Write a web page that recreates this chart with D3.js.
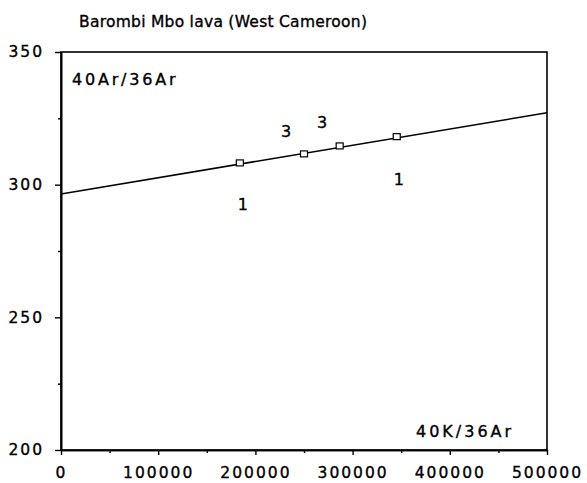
<!DOCTYPE html>
<html>
<head>
<meta charset="utf-8">
<script src="https://cdn.jsdelivr.net/npm/d3@7"></script>
<style>
  body { margin: 0; background: #fff; }
  text { font-family: "DejaVu Sans", sans-serif; fill: #000; stroke: #000; stroke-width: 0.35px; }
</style>
</head>
<body>
<div id="chart"></div>
<script>
// measured points (40K/36Ar vs 40Ar/36Ar)
const ratioK = [184000, 250000, 286700, 345400];
const ratioAr = [308.2, 311.6, 314.6, 318.1];

// isochron line end points
const fitX = [0, 500000];
const fitY = [296.5, 327.1];

// number labels drawn on the plot
const noteText = ["3", "3", "1", "1"];
const noteX = [231500, 268500, 187200, 347700];
const noteY = [319.8, 323.2, 292.3, 301.7];

const xTicks = [0, 100000, 200000, 300000, 400000, 500000];
const xMinor = [50000, 150000, 250000, 350000, 450000];
const yTicks = [200, 250, 300, 350];
const yMinor = [225, 275, 325];

var width = 587, height = 483;
var plot = {left: 61, right: 547, top: 52, bottom: 450};

var x = d3.scaleLinear().domain([0, 500000]).range([plot.left, plot.right]);
var y = d3.scaleLinear().domain([200, 350]).range([plot.bottom, plot.top]);

let svg = d3.select("#chart")
            .append("svg")
            .attr("width", width)
            .attr("height", height);

svg.append("text")
   .attr("x", 79)
   .attr("y", 22)
   .attr("dominant-baseline", "middle")
   .attr("font-size", 15.5)
   .attr("textLength", 288)
   .attr("lengthAdjust", "spacing")
   .text("Barombi Mbo lava (West Cameroon)");

// frame
svg.append("rect")
   .attr("x", plot.left)
   .attr("y", plot.top)
   .attr("width", plot.right - plot.left)
   .attr("height", plot.bottom - plot.top)
   .attr("fill", "none")
   .attr("stroke", "#000")
   .attr("stroke-width", 1.6);

// axes
let xAxis = svg.append("g")
   .attr("transform", "translate(0," + plot.bottom + ")")
   .call(d3.axisBottom(x).tickValues(xTicks).tickSize(5).tickSizeOuter(0).tickPadding(12)
           .tickFormat(d3.format("d")));
xAxis.append("g")
   .call(d3.axisBottom(x).tickValues(xMinor).tickSize(3).tickSizeOuter(0).tickFormat(""));

let yAxis = svg.append("g")
   .attr("transform", "translate(" + plot.left + ",0)")
   .call(d3.axisLeft(y).tickValues(yTicks).tickSize(6).tickSizeOuter(0).tickPadding(11)
           .tickFormat(d3.format("d")));
yAxis.append("g")
   .call(d3.axisLeft(y).tickValues(yMinor).tickSize(3).tickSizeOuter(0).tickFormat(""));

svg.selectAll(".domain").attr("stroke-width", 1.6);
svg.selectAll(".tick line").attr("stroke-width", 1.4);
svg.selectAll(".tick text")
   .attr("font-family", "DejaVu Sans, sans-serif")
   .attr("font-size", 15.5)
   .attr("letter-spacing", 2)
   .attr("fill", "#000");

// axis titles inside frame
svg.append("text")
   .attr("x", 72)
   .attr("y", 80)
   .attr("dominant-baseline", "middle")
   .attr("font-size", 16)
   .attr("letter-spacing", 2.8)
   .text("40Ar/36Ar");

svg.append("text")
   .attr("x", 416)
   .attr("y", 432)
   .attr("dominant-baseline", "middle")
   .attr("font-size", 16)
   .attr("letter-spacing", 3)
   .text("40K/36Ar");

// fitted line
var fit = fitX.map((d, i) => ({x: d, y: fitY[i]}));
svg.append("path")
   .datum(fit)
   .attr("fill", "none")
   .attr("stroke", "#000")
   .attr("stroke-width", 1.5)
   .attr("d", d3.line().x(d => x(d.x)).y(d => y(d.y)));

// points
var pts = ratioK.map((d, i) => ({x: d, y: ratioAr[i]}));
svg.selectAll(".pt")
   .data(pts)
   .enter()
   .append("rect")
   .attr("class", "pt")
   .attr("x", d => x(d.x) - 3.5)
   .attr("y", d => y(d.y) - 3)
   .attr("width", 7)
   .attr("height", 6)
   .attr("fill", "#fff")
   .attr("stroke", "#000")
   .attr("stroke-width", 1.2);

// labels
var notes = noteText.map((t, i) => ({t: t, x: noteX[i], y: noteY[i]}));
svg.selectAll(".note")
   .data(notes)
   .enter()
   .append("text")
   .attr("class", "note")
   .attr("x", d => x(d.x))
   .attr("y", d => y(d.y))
   .attr("text-anchor", "middle")
   .attr("dominant-baseline", "middle")
   .attr("font-size", 16)
   .text(d => d.t);
</script>
</body>
</html>
